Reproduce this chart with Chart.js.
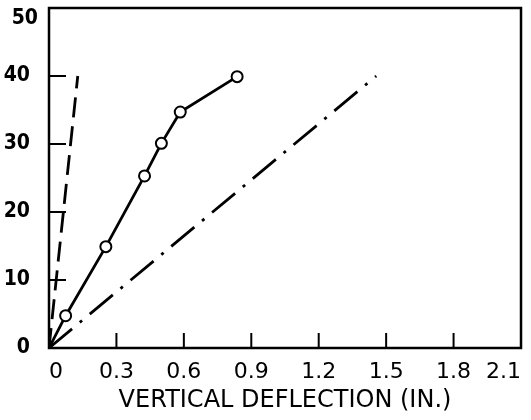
<!DOCTYPE html>
<html>
<head>
<meta charset="utf-8">
<script src="https://cdn.jsdelivr.net/npm/chart.js@4"></script>
<style>
  html, body { margin: 0; padding: 0; background: #fff; }
  #wrap { width: 531px; height: 420px; }
</style>
</head>
<body>
<div id="wrap"><canvas id="chart1" width="531" height="420"></canvas></div>
<script>
// measured curve (circles)
const testX = [0, 0.074, 0.253, 0.425, 0.50, 0.584, 0.837];
const testY = [0, 4.75, 14.9, 25.3, 30.1, 34.7, 39.9];
// dashed reference line
const dashedX = [0, 0.128];
const dashedY = [0, 40];
// dash-dot reference line
const dashDotX = [0, 1.456];
const dashDotY = [0, 40];

const xTickValues = [0, 0.3, 0.6, 0.9, 1.2, 1.5, 1.8, 2.1];
const xTickLabels = ['0', '0.3', '0.6', '0.9', '1.2', '1.5', '1.8', '2.1'];
const yTickValues = [0, 10, 20, 30, 40, 50];
const yTickLabels = ['0', '10', '20', '30', '40', '50'];

const yFont = { family: '"DejaVu Sans Condensed", "DejaVu Sans"', size: 21, weight: 'bold' };

const toPoints = (xs, ys) => xs.map((x, i) => ({ x: x, y: ys[i] }));

// draws the frame, the short inward tick marks and the top "50" label
const frameTicks = {
  id: 'frameTicks',
  afterDraw(chart) {
    const { ctx, chartArea, scales } = chart;
    ctx.save();
    ctx.strokeStyle = '#000';
    ctx.lineWidth = 2.5;
    ctx.strokeRect(chartArea.left, chartArea.top, chartArea.right - chartArea.left, chartArea.bottom - chartArea.top);
    ctx.lineWidth = 2;
    ctx.beginPath();
    xTickValues.slice(1, -1).forEach(v => {
      const px = scales.x.getPixelForValue(v);
      ctx.moveTo(px, chartArea.bottom);
      ctx.lineTo(px, chartArea.bottom - 15);
    });
    yTickValues.slice(1, -1).forEach(v => {
      const py = scales.y.getPixelForValue(v);
      ctx.moveTo(chartArea.left, py);
      ctx.lineTo(chartArea.left + 17, py);
    });
    ctx.stroke();
    // the top label sits a little below the frame in the original
    ctx.fillStyle = '#000';
    ctx.font = yFont.weight + ' ' + yFont.size + 'px ' + yFont.family;
    ctx.textAlign = 'right';
    ctx.textBaseline = 'middle';
    const topV = yTickValues[yTickValues.length - 1];
    ctx.fillText(yTickLabels[yTickLabels.length - 1], chartArea.left - 11, scales.y.getPixelForValue(topV) + 11);
    ctx.restore();
  }
};

new Chart(document.getElementById('chart1'), {
  type: 'scatter',
  data: {
    datasets: [
      {
        data: toPoints(dashDotX, dashDotY),
        showLine: true,
        borderColor: '#000',
        borderWidth: 2.8,
        borderDash: [30, 10, 3, 10],
        pointRadius: 0
      },
      {
        data: toPoints(dashedX, dashedY),
        showLine: true,
        borderColor: '#000',
        borderWidth: 2.8,
        borderDash: [20, 9],
        pointRadius: 0
      },
      {
        data: toPoints(testX, testY),
        showLine: true,
        borderColor: '#000',
        borderWidth: 2.8,
        pointRadius: testX.map((x, i) => i === 0 ? 0 : 5.5),
        pointBackgroundColor: '#fff',
        pointBorderColor: '#000',
        pointBorderWidth: 2
      }
    ]
  },
  options: {
    responsive: false,
    animation: false,
    layout: { padding: { top: 8, right: 10, left: 0, bottom: 0 } },
    scales: {
      x: {
        type: 'linear',
        min: 0,
        max: 2.1,
        afterBuildTicks: s => { s.ticks = xTickValues.map(v => ({ value: v })); },
        afterFit: s => { s.height = 72; s.paddingLeft = 0; s.paddingRight = 0; },
        grid: { display: false },
        border: { display: false },
        ticks: {
          color: '#000',
          padding: 3,
          maxRotation: 0,
          align: 'inner',
          font: { family: 'DejaVu Sans', size: 22 },
          callback: (v, i) => xTickLabels[i]
        },
        title: {
          display: true,
          text: 'VERTICAL DEFLECTION (IN.)',
          color: '#000',
          font: { family: 'DejaVu Sans', size: 24 },
          padding: { top: 0, bottom: 5 }
        }
      },
      y: {
        type: 'linear',
        min: 0,
        max: 50,
        afterBuildTicks: s => { s.ticks = yTickValues.map(v => ({ value: v })); },
        afterFit: s => { s.width = 49; s.paddingTop = 0; s.paddingBottom = 0; },
        grid: { display: false },
        border: { display: false },
        ticks: {
          color: '#000',
          padding: 11,
          font: yFont,
          callback: (v, i) => i === yTickValues.length - 1 ? '' : yTickLabels[i]
        }
      }
    },
    plugins: {
      legend: { display: false },
      tooltip: { enabled: false }
    }
  },
  plugins: [frameTicks]
});
</script>
</body>
</html>
